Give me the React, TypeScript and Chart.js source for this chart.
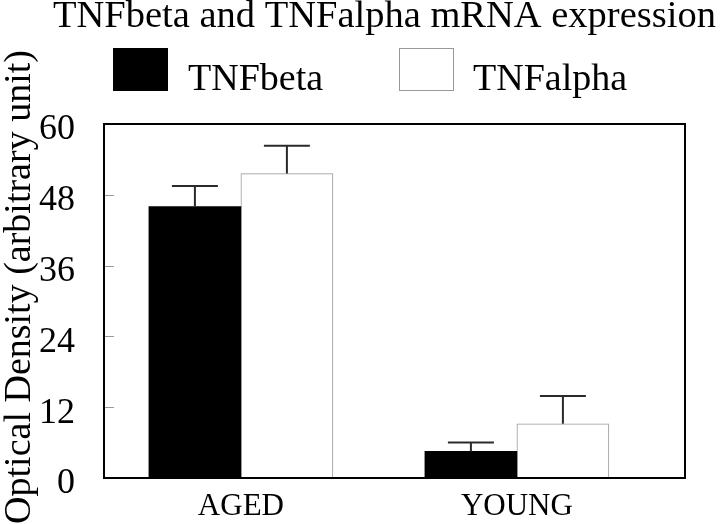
import React, { useEffect, useRef } from "react";
import { Chart, registerables } from "chart.js";

Chart.register(...registerables);

const categories = ["AGED", "YOUNG"];
const seriesNames = ["TNFbeta", "TNFalpha"];
const tnfBeta = [46, 4.5];
const tnfBetaErr = [3.5, 1.5];
const tnfAlpha = [51.6, 9.2];
const tnfAlphaErr = [4.7, 4.7];
const yTicks = [0, 12, 24, 36, 48, 60];
const titleText = "TNFbeta and TNFalpha mRNA expression";
const yTitleText = "Optical Density (arbitrary unit)";

const SERIF = '"Liberation Serif", "Times New Roman", serif';
const errors = [tnfBetaErr, tnfAlphaErr];
const fills = ["#000000", "#ffffff"];
const borders = ["#000000", "#999999"];

const decor = {
  id: "decor",
  afterDatasetsDraw(chart: any) {
    const { ctx, scales } = chart;
    const y = scales.y;
    ctx.save();
    ctx.strokeStyle = "#2a2a2a";
    ctx.lineWidth = 2;
    chart.data.datasets.forEach((ds: any, di: number) => {
      const meta = chart.getDatasetMeta(di);
      meta.data.forEach((bar: any, i: number) => {
        const v = ds.data[i].y;
        const e = errors[di][i];
        const yTop = y.getPixelForValue(v);
        const yErr = y.getPixelForValue(v + e);
        const cx = bar.x;
        const half = bar.width / 4;
        ctx.beginPath();
        ctx.moveTo(cx, yTop);
        ctx.lineTo(cx, yErr);
        ctx.moveTo(cx - half, yErr);
        ctx.lineTo(cx + half, yErr);
        ctx.stroke();
      });
    });
    ctx.restore();
  },
  afterDraw(chart: any) {
    const { ctx, chartArea: ca, scales } = chart;
    const y = scales.y;
    ctx.save();
    // inner y tick marks
    ctx.strokeStyle = "#9a9a9a";
    ctx.lineWidth = 1;
    yTicks.forEach((v) => {
      if (v === yTicks[0] || v === yTicks[yTicks.length - 1]) return;
      const py = Math.round(y.getPixelForValue(v)) + 0.5;
      ctx.beginPath();
      ctx.moveTo(ca.left, py);
      ctx.lineTo(ca.left + 10, py);
      ctx.stroke();
    });
    // frame
    ctx.strokeStyle = "#000";
    ctx.lineWidth = 2;
    ctx.strokeRect(ca.left, ca.top, ca.right - ca.left, ca.bottom - ca.top);

    // title
    ctx.fillStyle = "#000";
    ctx.font = `38.5px ${SERIF}`;
    ctx.textAlign = "left";
    ctx.textBaseline = "alphabetic";
    ctx.fillText(titleText, 53, 27);

    // legend
    ctx.font = `38px ${SERIF}`;
    const boxX = [113, 399];
    const textX = [188, 473];
    seriesNames.forEach((name, i) => {
      ctx.fillStyle = fills[i];
      ctx.fillRect(boxX[i], 48, 55, 43);
      ctx.strokeStyle = borders[i];
      ctx.lineWidth = 1;
      ctx.strokeRect(boxX[i] + 0.5, 48.5, 54, 42);
      ctx.fillStyle = "#000";
      ctx.fillText(name, textX[i], 90);
    });

    // y axis title
    ctx.translate(30, 287);
    ctx.rotate(-Math.PI / 2);
    ctx.textAlign = "center";
    ctx.textBaseline = "alphabetic";
    ctx.font = `38px ${SERIF}`;
    ctx.fillText(yTitleText, 0, 0);
    ctx.restore();
  },
};

export default function App() {
  const ref = useRef<HTMLCanvasElement | null>(null);
  useEffect(() => {
    if (!ref.current) return;
    const datasets = [tnfBeta, tnfAlpha].map((vals, di) => ({
      label: seriesNames[di],
      data: vals.map((v, i) => ({ x: i + 1, y: v })),
      backgroundColor: fills[di],
      borderColor: borders[di],
      borderWidth: di === 0 ? 0 : 1,
      barThickness: 92,
    }));
    const chart = new Chart(ref.current, {
      type: "bar",
      data: { datasets },
      options: {
        animation: false,
        responsive: false,
        layout: { padding: { top: 124, right: 35, left: 0, bottom: 0 } },
        plugins: {
          legend: { display: false },
          title: { display: false },
          tooltip: { enabled: false },
        },
        scales: {
          x: {
            type: "linear",
            offset: false,
            min: 0.504,
            max: 2.609,
            grid: { display: false, offset: false },
            border: { display: false },
            afterBuildTicks: (s: any) => {
              s.ticks = categories.map((_, i) => ({ value: i + 1 }));
            },
            afterFit: (s: any) => {
              s.height = 46;
            },
            ticks: {
              autoSkip: false,
              maxRotation: 0,
              padding: 2,
              color: "#000",
              font: { family: SERIF, size: 31 },
              callback: (v: any) => categories[Math.round(Number(v)) - 1] ?? "",
            },
          },
          y: {
            min: 0,
            max: 60,
            grid: { display: false },
            border: { display: false },
            afterBuildTicks: (s: any) => {
              s.ticks = yTicks.map((v) => ({ value: v }));
            },
            afterFit: (s: any) => {
              s.width = 104;
            },
            ticks: {
              padding: 21,
              labelOffset: 6,
              color: "#000",
              font: { family: SERIF, size: 36 },
            },
          },
        },
      },
      plugins: [decor],
    });
    return () => chart.destroy();
  }, []);
  return (
    <div style={{ position: "absolute", left: 0, top: 0, width: 720, height: 524, background: "#fff" }}>
      <canvas ref={ref} width={720} height={524} />
    </div>
  );
}
